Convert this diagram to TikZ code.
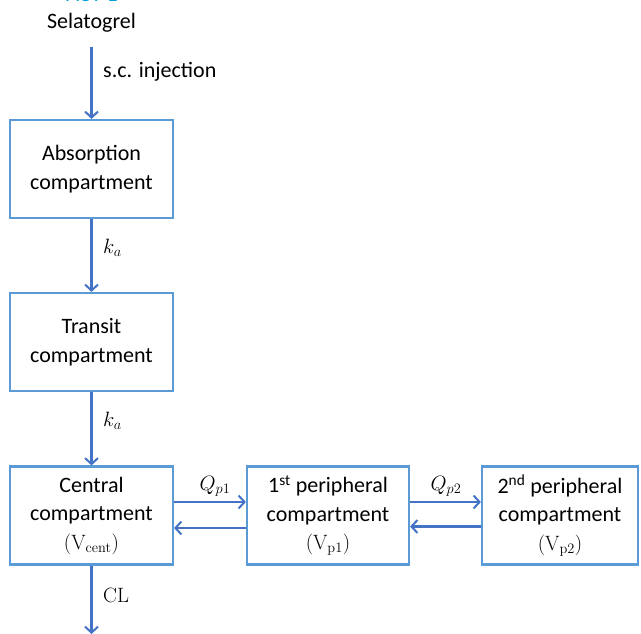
\documentclass[tikz,border=0pt]{standalone}
\usepackage[no-math]{fontspec}
\setmainfont{Carlito}
\usetikzlibrary{arrows.meta}
\definecolor{boxblue}{RGB}{91,155,213}
\definecolor{arrblue}{RGB}{68,114,196}
\definecolor{teal1}{RGB}{0,160,220}
\begin{document}
\begin{tikzpicture}[x=1pt,y=-1pt,
  compbox/.style={draw=boxblue, line width=2.2pt, minimum height=98pt, inner sep=0pt, align=center,
    font=\fontsize{22}{28.5}\selectfont},
  arr/.style={draw=arrblue, line width=2.2pt, -{Straight Barb[length=6pt,width=13pt,line width=2pt]}},
  lbl/.style={font=\fontsize{22}{26}\selectfont, inner sep=0pt}]
\useasboundingbox (0,0) rectangle (641,633);
\fill[white] (0,0) rectangle (641,633);
\begin{scope}
\clip (0,0) rectangle (641,633);
\node[lbl, text=teal1, anchor=base] (act) at (92,1.5) {ACT-1};
\end{scope}
\node[lbl, anchor=base] (sel) at (91.5,28) {Selatogrel};
\node[compbox, minimum width=163pt] (abs) at (91.5,169) {Absorption\\compartment};
\node[compbox, minimum width=163pt] (tra) at (91.5,342) {Transit\\compartment};
\node[compbox, minimum width=163pt] (cen) at (91.5,515.5) {Central\\compartment\\$(\mathrm{V}_{\mathrm{cent}})$};
\node[compbox, minimum width=162pt] (p1) at (328,515.5) {1\textsuperscript{st} peripheral\\compartment\\$(\mathrm{V}_{\mathrm{p1}})$};
\node[compbox, minimum width=156pt] (p2) at (560,515.5) {2\textsuperscript{nd} peripheral\\compartment\\$(\mathrm{V}_{\mathrm{p2}})$};
\coordinate (selout) at (91.5,47);
\coordinate (clend) at (91.5,633);
\draw[arr] (selout) -- (abs.north);
\draw[arr] (abs.south) -- (tra.north);
\draw[arr] (tra.south) -- (cen.north);
\draw[arr, shorten >=-1pt] (cen.south) -- (clend);
\draw[arr] ([yshift=13.5pt]cen.east) -- ([yshift=13.5pt]p1.west);
\draw[arr] ([yshift=-12.5pt]p1.west) -- ([yshift=-12.5pt]cen.east);
\draw[arr] ([yshift=13.5pt]p1.east) -- ([yshift=13.5pt]p2.west);
\draw[arr] ([yshift=-11pt]p2.west) -- ([yshift=-11pt]p1.east);
\node[lbl, anchor=west] (sc) at (103,72) {s.c. injection};
\node[lbl, anchor=west] (ka1) at (103,248) {$k_a$};
\node[lbl, anchor=west] (ka2) at (103,421) {$k_a$};
\node[lbl] (q1) at (215,486) {$Q_{p1}$};
\node[lbl] (q2) at (446,486) {$Q_{p2}$};
\node[lbl, anchor=west] (cl) at (103,595) {$\mathrm{CL}$};
\end{tikzpicture}
\end{document}
